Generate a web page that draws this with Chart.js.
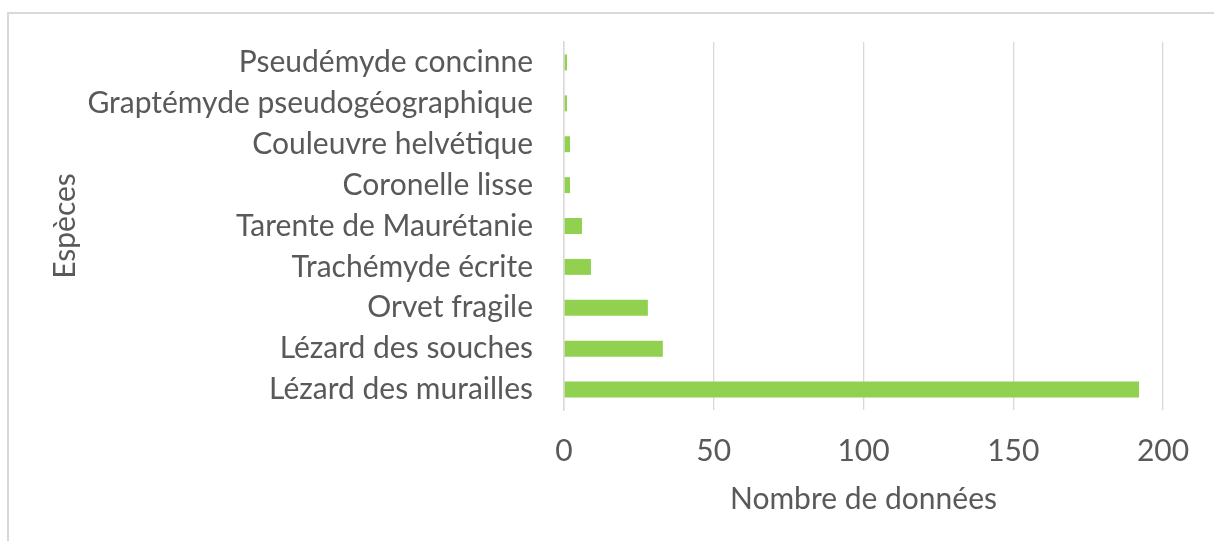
<!DOCTYPE html>
<html>
<head>
<meta charset="utf-8">
<script src="https://cdn.jsdelivr.net/npm/chart.js@4"></script>
<style>
  html, body { margin: 0; padding: 0; background: #ffffff; overflow: hidden; }
  #frame { position: absolute; left: 7px; top: 12px; width: 1300px; height: 700px;
           border-left: 2px solid #d9d9d9; border-top: 2px solid #d9d9d9; box-sizing: border-box; }
  #wrap { position: absolute; left: 0; top: 0; width: 1214px; height: 541px; }
</style>
</head>
<body>
<div id="frame"></div>
<div id="wrap"><canvas id="c" width="1214" height="541"></canvas></div>
<script>
const categories = [
  "Pseudémyde concinne",
  "Graptémyde pseudogéographique",
  "Couleuvre helvétique",
  "Coronelle lisse",
  "Tarente de Maurétanie",
  "Trachémyde écrite",
  "Orvet fragile",
  "Lézard des souches",
  "Lézard des murailles"
];
const counts = [1, 1, 2, 2, 6, 9, 28, 33, 192];
const xTicks = [0, 50, 100, 150, 200];
const xTitle = "Nombre de données";
const yTitle = "Espèces";

const FONT = "Lato, 'Open Sans', sans-serif";
const TXT = "#595959";
const GRID = "#d9d9d9";

new Chart(document.getElementById('c'), {
  type: 'bar',
  data: {
    labels: categories,
    datasets: [{
      data: counts,
      backgroundColor: '#92d050',
      borderWidth: 0,
      barPercentage: 0.39,
      categoryPercentage: 1
    }]
  },
  options: {
    indexAxis: 'y',
    responsive: false,
    animation: false,
    layout: { padding: { top: 42, right: 51, left: 0, bottom: 0 } },
    plugins: { legend: { display: false }, tooltip: { enabled: false } },
    scales: {
      x: {
        min: xTicks[0],
        max: xTicks[xTicks.length - 1],
        afterBuildTicks: (s) => { s.ticks = xTicks.map(v => ({ value: v })); },
        grid: { color: GRID, lineWidth: 1.3, drawTicks: false },
        border: { display: false },
        ticks: { color: TXT, font: { family: FONT, size: 30 }, padding: 23 },
        title: { display: true, text: xTitle, color: TXT, font: { family: FONT, size: 30 }, padding: { top: 0, bottom: 24 } },
        afterFit: (s) => { s.height = 131; }
      },
      y: {
        grid: { display: false, drawTicks: false },
        border: { display: true, color: GRID, width: 1.5 },
        ticks: { color: TXT, font: { family: FONT, size: 30 }, padding: 31 },
        title: { display: true, text: yTitle, color: TXT, font: { family: FONT, size: 30 }, padding: { top: 47, bottom: 0 } },
        afterFit: (s) => { s.width = 564; s.paddingTop = 0; s.paddingBottom = 0; }
      }
    }
  }
});
</script>
</body>
</html>
